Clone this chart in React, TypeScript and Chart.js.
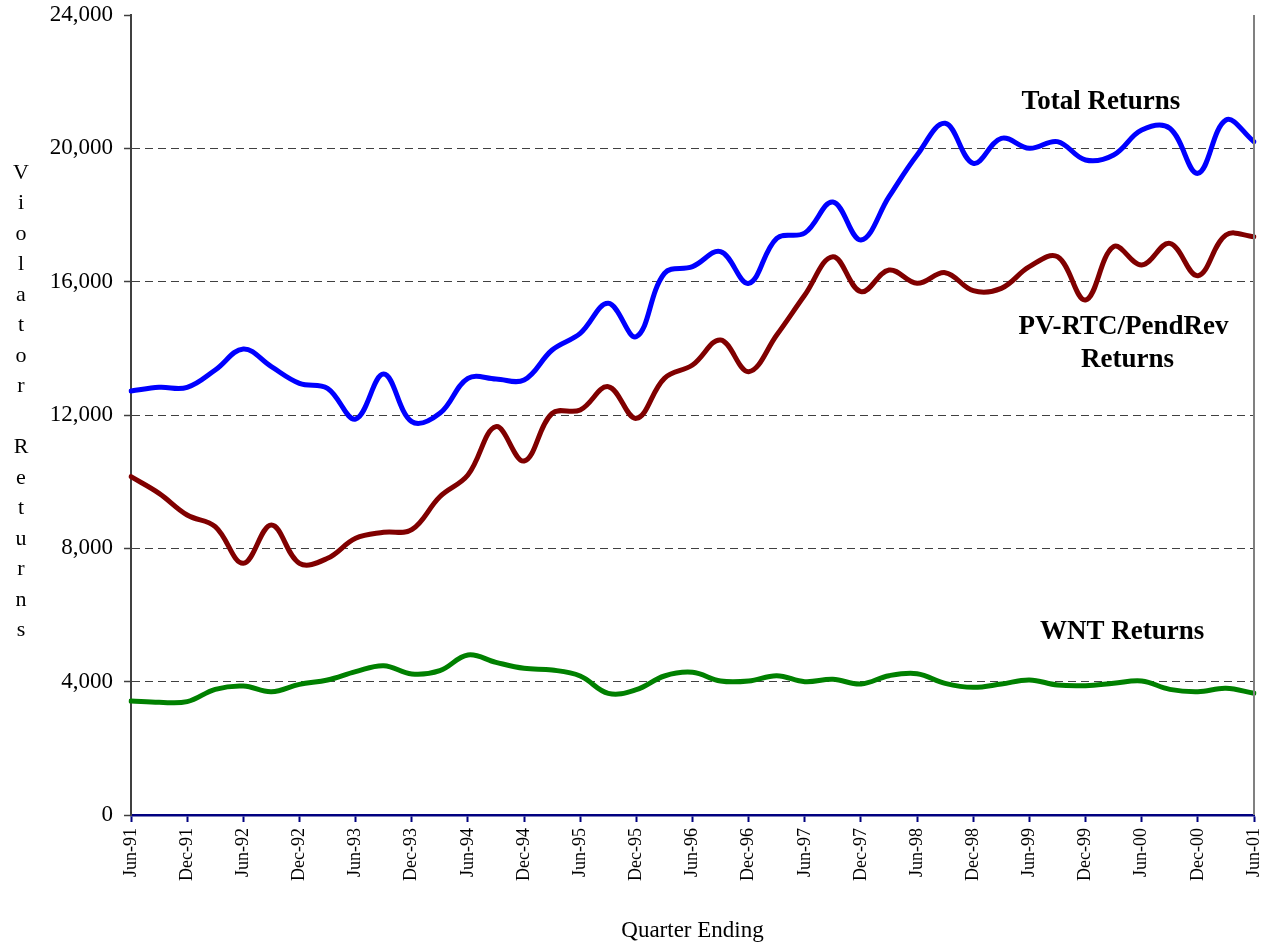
import React, { useEffect, useRef } from 'react';
import { Chart, registerables } from 'chart.js';

Chart.register(...registerables);

const quarters = [
  'Jun-91', 'Sep-91', 'Dec-91', 'Mar-92', 'Jun-92', 'Sep-92', 'Dec-92', 'Mar-93', 'Jun-93', 'Sep-93',
  'Dec-93', 'Mar-94', 'Jun-94', 'Sep-94', 'Dec-94', 'Mar-95', 'Jun-95', 'Sep-95', 'Dec-95', 'Mar-96',
  'Jun-96', 'Sep-96', 'Dec-96', 'Mar-97', 'Jun-97', 'Sep-97', 'Dec-97', 'Mar-98', 'Jun-98', 'Sep-98',
  'Dec-98', 'Mar-99', 'Jun-99', 'Sep-99', 'Dec-99', 'Mar-00', 'Jun-00', 'Sep-00', 'Dec-00', 'Mar-01',
  'Jun-01',
];

const totalReturns = [
  12720, 12830, 12830, 13350, 13980, 13450, 12950, 12800, 11880, 13230,
  11800, 12050, 13100, 13080, 13050, 13950, 14450, 15350, 14350, 16250,
  16450, 16900, 15950, 17300, 17460, 18390, 17250, 18550, 19800, 20750,
  19550, 20300, 20000, 20200, 19650, 19800, 20550, 20600, 19250, 20850,
  20200,
];

const pvRtcPendRevReturns = [
  10150, 9650, 9000, 8650, 7550, 8700, 7550, 7700, 8300, 8480,
  8560, 9550, 10200, 11650, 10620, 12050, 12150, 12850, 11900, 13100,
  13500, 14250, 13300, 14400, 15600, 16750, 15700, 16350, 15950, 16270,
  15730, 15800, 16450, 16750, 15450, 17050, 16500, 17150, 16180, 17400,
  17350,
];

const wntReturns = [
  3420, 3380, 3400, 3770, 3870, 3700, 3920, 4050, 4300, 4480,
  4230, 4330, 4800, 4580, 4400, 4350, 4170, 3650, 3760, 4170,
  4280, 4020, 4020, 4180, 4000, 4070, 3930, 4180, 4240, 3950,
  3830, 3930, 4050, 3900, 3880, 3950, 4020, 3770, 3700, 3800,
  3650,
];

const yTickValues = [0, 4000, 8000, 12000, 16000, 20000, 24000];

const seriesNames = ['Total Returns', 'PV-RTC/PendRev Returns', 'WNT Returns'];
const yAxisTitle = 'Violator Returns';
const xAxisTitle = 'Quarter Ending';

const SERIF = '"Liberation Serif", "Times New Roman", Times, serif';

// label placement (category index, value) — styling only
const labelPlacement = [
  { lines: ['Total Returns'], x: 34.55, y: 21400 },
  { lines: ['PV-RTC/PendRev', 'Returns'], x: 35.35, y: 14650, lineGap: 33, offsets: [0, 4] },
  { lines: ['WNT Returns'], x: 35.3, y: 5500 },
];

const decorPlugin = {
  id: 'decor',
  afterDraw(chart: any) {
    const { ctx, chartArea, scales } = chart;
    ctx.save();
    // right frame line
    ctx.strokeStyle = '#808080';
    ctx.lineWidth = 2;
    ctx.beginPath();
    ctx.moveTo(chartArea.right, chartArea.top);
    ctx.lineTo(chartArea.right, chartArea.bottom);
    ctx.stroke();

    // series labels
    ctx.fillStyle = '#000';
    ctx.font = `bold 27px ${SERIF}`;
    ctx.textAlign = 'center';
    ctx.textBaseline = 'middle';
    labelPlacement.forEach((p: any) => {
      const cx = scales.x.getPixelForValue(p.x);
      const cy = scales.y.getPixelForValue(p.y);
      p.lines.forEach((line: string, i: number) => {
        const dx = p.offsets ? p.offsets[i] : 0;
        ctx.fillText(line, cx + dx, cy + i * (p.lineGap || 0));
      });
    });

    // stacked vertical y-axis title
    ctx.font = `22px ${SERIF}`;
    const chars = yAxisTitle.split('');
    const step = 30.5;
    const top = 173;
    chars.forEach((c, i) => {
      if (c !== ' ') ctx.fillText(c, 21, top + i * step);
    });
    ctx.restore();
  },
};

const zeroPadding = (scale: any) => {
  scale.paddingTop = 0;
  scale.paddingBottom = 0;
  scale.paddingLeft = 0;
  scale.paddingRight = 0;
};

export default function App() {
  const canvasRef = useRef<HTMLCanvasElement | null>(null);

  useEffect(() => {
    if (!canvasRef.current) return;
    const chart = new Chart(canvasRef.current, {
      type: 'line',
      data: {
        labels: quarters,
        datasets: [
          {
            label: seriesNames[0],
            data: totalReturns,
            borderColor: '#0000FF',
            borderWidth: 5,
            pointRadius: 0,
            tension: 0.38,
            fill: false,
          },
          {
            label: seriesNames[1],
            data: pvRtcPendRevReturns,
            borderColor: '#800000',
            borderWidth: 5,
            pointRadius: 0,
            tension: 0.38,
            fill: false,
          },
          {
            label: seriesNames[2],
            data: wntReturns,
            borderColor: '#008000',
            borderWidth: 5,
            pointRadius: 0,
            tension: 0.38,
            fill: false,
          },
        ],
      },
      options: {
        animation: false,
        responsive: true,
        maintainAspectRatio: false,
        layout: { padding: { left: 0, right: 19, top: 15, bottom: 0 } },
        plugins: {
          legend: { display: false },
          tooltip: { enabled: false },
          title: { display: false },
        },
        elements: { line: { borderCapStyle: 'round', borderJoinStyle: 'round' } },
        scales: {
          x: {
            type: 'category',
            offset: false,
            afterBuildTicks: (scale: any) => {
              scale.ticks = scale.ticks.filter((t: any) => t.value % 2 === 0);
            },
            afterFit: (scale: any) => {
              scale.height = 133;
              zeroPadding(scale);
            },
            ticks: {
              autoSkip: false,
              minRotation: 90,
              maxRotation: 90,
              color: '#000',
              padding: 6,
              font: { family: SERIF, size: 18 },
            },
            grid: {
              drawOnChartArea: false,
              drawTicks: true,
              tickLength: 7,
              tickColor: '#000080',
              tickWidth: 2,
            },
            border: { display: true, color: '#000080', width: 2.5 },
            title: {
              display: true,
              text: xAxisTitle,
              color: '#000',
              font: { family: SERIF, size: 23 },
              padding: { top: 0, bottom: 3 },
            },
          },
          y: {
            min: 0,
            max: 24000,
            afterBuildTicks: (scale: any) => {
              scale.ticks = yTickValues.map((v) => ({ value: v }));
            },
            afterFit: (scale: any) => {
              scale.width = 131;
              zeroPadding(scale);
            },
            ticks: {
              color: '#000',
              padding: 11,
              font: { family: SERIF, size: 23 },
              callback: (v: any) => Number(v).toLocaleString('en-US'),
            },
            grid: {
              color: (c: any) =>
                c.tick && (c.tick.value === 0 || c.tick.value === 24000) ? 'rgba(0,0,0,0)' : '#404040',
              lineWidth: 1,
              tickLength: 7,
              tickColor: '#404040',
              tickWidth: 1.5,
            },
            border: { display: true, color: '#404040', width: 2, dash: [8, 5] },
          },
        },
      },
      plugins: [decorPlugin],
    });
    return () => chart.destroy();
  }, []);

  return (
    <div
      style={{
        position: 'fixed',
        left: 0,
        top: 0,
        width: 1273,
        height: 948,
        background: '#ffffff',
      }}
    >
      <canvas ref={canvasRef} />
    </div>
  );
}
